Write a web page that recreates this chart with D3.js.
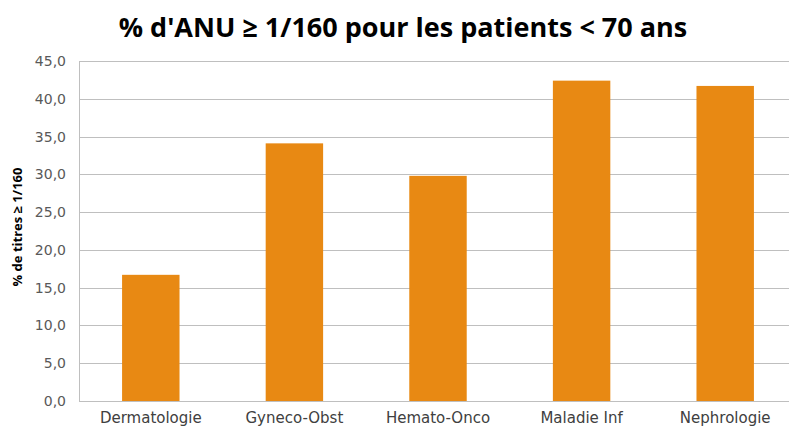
<!DOCTYPE html>
<html>
<head>
<meta charset="utf-8">
<script src="https://cdn.jsdelivr.net/npm/d3@7"></script>
<style>
  body { margin: 0; background: #fff; }
  svg { display: block; }
</style>
</head>
<body>
<figure id="chart" style="margin:0"></figure>
<script>
const categories = ["Dermatologie", "Gyneco-Obst", "Hemato-Onco", "Maladie Inf", "Nephrologie"];
const values = [16.7, 34.1, 29.8, 42.4, 41.7];
const yTicks = [0, 5, 10, 15, 20, 25, 30, 35, 40, 45];

const width = 789, height = 427;
const plotLeft = 79, plotRight = 797, plotTop = 61, plotBottom = 401;

const svg = d3.select("#chart")
  .append("svg")
  .attr("width", width)
  .attr("height", height);

const x = d3.scaleBand()
  .domain(categories)
  .range([plotLeft, plotRight])
  .paddingInner(0.6)
  .paddingOuter(0.3);

const y = d3.scaleLinear()
  .domain([0, 45])
  .range([plotBottom, plotTop]);

// gridlines
svg.append("g")
  .selectAll("line")
  .data(yTicks)
  .enter()
  .append("line")
  .attr("x1", plotLeft)
  .attr("x2", plotRight)
  .attr("y1", d => Math.round(y(d)) + 0.5)
  .attr("y2", d => Math.round(y(d)) + 0.5)
  .style("stroke", "#bfbfbf")
  .style("stroke-width", 1);

// left axis line
svg.append("line")
  .attr("x1", plotLeft + 0.5)
  .attr("x2", plotLeft + 0.5)
  .attr("y1", plotTop)
  .attr("y2", plotBottom)
  .style("stroke", "#bfbfbf");

// y tick labels
svg.append("g")
  .selectAll("text")
  .data(yTicks)
  .enter()
  .append("text")
  .attr("x", 66)
  .attr("y", d => y(d) + 5)
  .attr("text-anchor", "end")
  .style("font-family", "'DejaVu Sans', sans-serif")
  .style("font-size", "14px")
  .style("fill", "#595959")
  .text(d => d.toFixed(1).replace(".", ","));

// bars
svg.append("g")
  .selectAll("rect")
  .data(values)
  .enter()
  .append("rect")
  .attr("x", (d, i) => x(categories[i]))
  .attr("y", d => y(d))
  .attr("width", x.bandwidth())
  .attr("height", d => y(0) - y(d))
  .style("fill", "#e88913");

// category labels
svg.append("g")
  .selectAll("text")
  .data(categories)
  .enter()
  .append("text")
  .attr("x", d => x(d) + x.bandwidth() / 2)
  .attr("y", 423)
  .attr("text-anchor", "middle")
  .style("font-family", "'DejaVu Sans', sans-serif")
  .style("font-size", "15px")
  .style("fill", "#404040")
  .text(d => d);

// title
svg.append("text")
  .attr("x", 403)
  .attr("y", 37)
  .attr("text-anchor", "middle")
  .style("font-family", "'Open Sans', sans-serif")
  .style("font-weight", "bold")
  .style("font-size", "27px")
  .style("fill", "#000")
  .text("% d'ANU ≥ 1/160 pour les patients < 70 ans");

// y axis title
svg.append("text")
  .attr("transform", "translate(22,227) rotate(-90)")
  .attr("text-anchor", "middle")
  .style("font-family", "'Open Sans', sans-serif")
  .style("font-weight", "bold")
  .style("font-size", "13px")
  .style("fill", "#000")
  .text("% de titres ≥ 1/160");
</script>
</body>
</html>
